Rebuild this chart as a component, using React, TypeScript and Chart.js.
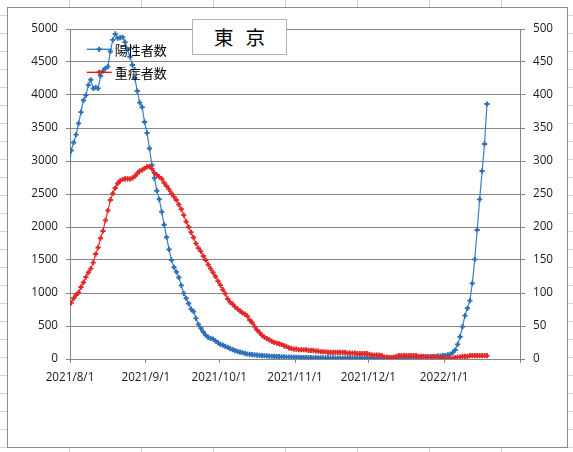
import React, { useEffect, useRef } from 'react';
import { Chart, registerables } from 'chart.js';

Chart.register(...registerables);

// Day offsets are counted from 2021/8/1 (day 0). The first value of each series is 2021/7/31,
// the day just before the axis start (its line segment enters the plot from the left edge).
const FIRST_DAY = -1;

const seriesNames = ['陽性者数', '重症者数'];

// 陽性者数 (left axis), daily values from 2021/7/31 to 2022/1/18
const positives = [
  2820,
  3160, 3280, 3400, 3570, 3740, 3920, 3995, 4150, 4230, 4100,
  4115, 4100, 4290, 4365, 4405, 4430, 4660, 4835, 4925, 4860,
  4870, 4875, 4800, 4690, 4580, 4455, 4260, 4060, 3885, 3815,
  3590, 3425, 3190, 2935, 2740, 2550, 2420, 2230, 2035, 1845,
  1660, 1500, 1390, 1320, 1235, 1115, 995, 920, 840, 755,
  720, 615, 525, 465, 410, 360, 328, 313, 303, 273,
  247, 222, 212, 190, 177, 157, 141, 126, 115, 105,
  96, 86, 76, 70, 65, 62, 58, 55, 52, 49,
  46, 44, 42, 40, 37, 35, 33, 31, 30, 29,
  28, 27, 25, 24, 23, 22, 21, 20, 20, 19,
  19, 18, 18, 17, 17, 16, 16, 16, 15, 15,
  15, 14, 14, 14, 14, 13, 13, 13, 13, 13,
  13, 13, 14, 14, 15, 15, 16, 16, 17, 17,
  18, 18, 19, 20, 20, 21, 21, 22, 22, 23,
  24, 25, 26, 28, 30, 32, 34, 36, 38, 40,
  43, 45, 50, 53, 61, 71, 96, 136, 222, 338,
  490, 657, 768, 884, 1146, 1510, 1955, 2419, 2848, 3258,
  3864,
];

// 重症者数 (right axis), daily values from 2021/7/31 to 2022/1/18
const severe = [
  80,
  85, 92, 97, 101, 109, 116, 124, 131, 137, 146,
  159, 169, 183, 194, 210, 225, 241, 251, 259, 266,
  270, 272, 273, 273, 273, 274, 277, 281, 285, 286,
  289, 291, 292, 288, 282, 279, 276, 273, 267, 262,
  257, 251, 246, 241, 234, 227, 218, 208, 200, 192,
  184, 175, 168, 163, 156, 150, 143, 137, 131, 125,
  118, 112, 105, 99, 91, 86, 83, 79, 76, 73,
  70, 68, 65, 59, 55, 49, 44, 40, 36, 33,
  31, 29, 27, 25, 24, 23, 22, 20, 19, 17,
  16, 15, 15, 14, 14, 14, 14, 13, 13, 13,
  12, 12, 11, 11, 11, 10, 10, 10, 10, 10,
  10, 10, 10, 9, 9, 9, 9, 8, 8, 8,
  8, 8, 7, 6, 6, 6, 6, 5, 3, 3,
  2, 2, 3, 4, 5, 5, 5, 5, 5, 5,
  5, 5, 4, 4, 4, 3, 3, 3, 3, 3,
  3, 2, 1, 1, 1, 1, 1, 2, 3, 3,
  4, 4, 4, 5, 5, 5, 5, 5, 5, 5,
  5,
];

// Month boundaries (day offsets from 2021/8/1) and their labels
const monthTicks = [0, 31, 61, 92, 122, 153, 184];
const monthLabels = ['2021/8/1', '2021/9/1', '2021/10/1', '2021/11/1', '2021/12/1', '2022/1/1', ''];

const LEFT_MAX = 5000;
const LEFT_STEP = 500;
const RIGHT_MAX = 500;
const RIGHT_STEP = 50;

const BLUE_LINE = '#3a7fc4';
const BLUE_MARK = '#2d6fb6';
const RED_LINE = '#e8302e';
const RED_MARK = '#e12727';
const LEGEND_LINE = ['#2e75b6', '#ff0000'];
const LEGEND_MARK = [BLUE_MARK, RED_MARK];
const GRID = '#878787';
const TEXT = '#1a1a1a';
const TICK_FONT = { family: '"Open Sans", "Liberation Sans", sans-serif', size: 11.7 };

const toPoints = (values: number[]) =>
  values.map((v, i) => ({ x: FIRST_DAY + i + 0.5, y: v }));

const plainNumber = (v: any) => String(v);

function drawCross(ctx: CanvasRenderingContext2D, x: number, y: number, r: number) {
  ctx.beginPath();
  ctx.moveTo(x - r, y);
  ctx.lineTo(x + r, y);
  ctx.moveTo(x, y - r);
  ctx.lineTo(x, y + r);
  ctx.stroke();
}

const insideLegend = {
  id: 'insideLegend',
  afterDatasetsDraw(chart: any) {
    const { ctx, chartArea } = chart;
    ctx.save();
    seriesNames.forEach((name, k) => {
      const y = chartArea.top + 20.3 + k * 23;
      const x0 = chartArea.left + 16.7;
      const x1 = x0 + 25;
      ctx.strokeStyle = LEGEND_LINE[k];
      ctx.lineWidth = 1.3;
      ctx.beginPath();
      ctx.moveTo(x0, y);
      ctx.lineTo(x1, y);
      ctx.stroke();
      ctx.strokeStyle = LEGEND_MARK[k];
      ctx.lineWidth = 1.9;
      drawCross(ctx, (x0 + x1) / 2, y, 2.6);
      ctx.fillStyle = '#000';
      ctx.font = '13px "Noto Sans CJK JP", sans-serif';
      ctx.textBaseline = 'middle';
      ctx.textAlign = 'left';
      ctx.fillText(name, x1 + 3, y + 0.5);
    });
    ctx.restore();
  },
};

export default function App() {
  const canvasRef = useRef<HTMLCanvasElement | null>(null);

  useEffect(() => {
    if (!canvasRef.current) return;
    const hideFirst = (c: any) => (c.dataIndex === 0 ? 0 : 2.6);
    const chart = new Chart(canvasRef.current, {
      type: 'line',
      data: {
        datasets: [
          {
            label: seriesNames[0],
            data: toPoints(positives),
            yAxisID: 'y',
            borderColor: BLUE_LINE,
            borderWidth: 1.2,
            pointStyle: 'cross',
            pointRadius: hideFirst,
            pointBorderWidth: 1.9,
            pointBorderColor: BLUE_MARK,
            pointBackgroundColor: BLUE_MARK,
            tension: 0,
            order: 1,
            clip: 0,
          },
          {
            label: seriesNames[1],
            data: toPoints(severe),
            yAxisID: 'y1',
            borderColor: RED_LINE,
            borderWidth: 1.2,
            pointStyle: 'cross',
            pointRadius: hideFirst,
            pointBorderWidth: 1.9,
            pointBorderColor: RED_MARK,
            pointBackgroundColor: RED_MARK,
            tension: 0,
            order: 0,
            clip: 0,
          },
        ],
      },
      options: {
        animation: false,
        responsive: false,
        devicePixelRatio: 1,
        events: [],
        layout: { padding: { top: 21, left: 0, right: 0, bottom: 0 } },
        plugins: {
          legend: { display: false },
          tooltip: { enabled: false },
          title: { display: false },
        },
        scales: {
          x: {
            type: 'linear',
            min: 0,
            max: 184,
            afterBuildTicks: (scale: any) => {
              scale.ticks = monthTicks.map((v) => ({ value: v }));
            },
            afterFit: (scale: any) => {
              scale.height = 88;
            },
            ticks: {
              autoSkip: false,
              maxRotation: 0,
              minRotation: 0,
              padding: 8,
              color: TEXT,
              font: TICK_FONT,
              callback: (_v: any, i: number) => monthLabels[i],
            },
            grid: { drawOnChartArea: false, tickLength: 4, color: GRID, lineWidth: 1 },
            border: { display: true, color: GRID, width: 1 },
          },
          y: {
            position: 'left',
            min: 0,
            max: LEFT_MAX,
            afterFit: (scale: any) => {
              scale.width = 62;
            },
            ticks: { stepSize: LEFT_STEP, padding: 8, color: TEXT, font: TICK_FONT, callback: plainNumber },
            grid: { color: GRID, tickLength: 4, lineWidth: 1 },
            border: { display: true, color: GRID, width: 1 },
          },
          y1: {
            position: 'right',
            min: 0,
            max: RIGHT_MAX,
            afterFit: (scale: any) => {
              scale.width = 47;
            },
            ticks: { stepSize: RIGHT_STEP, padding: 8, color: TEXT, font: TICK_FONT, callback: plainNumber },
            grid: { drawOnChartArea: false, color: GRID, tickLength: 5, lineWidth: 1 },
            border: { display: true, color: GRID, width: 1 },
          },
        },
      },
      plugins: [insideLegend],
    } as any);
    return () => chart.destroy();
  }, []);

  return (
    <div
      style={{
        position: 'absolute',
        left: 0,
        top: 0,
        width: 573,
        height: 452,
        overflow: 'hidden',
        backgroundColor: '#ffffff',
        backgroundImage:
          'linear-gradient(to right, #d4d4d4 1px, transparent 1px), linear-gradient(to bottom, #d4d4d4 1px, transparent 1px)',
        backgroundSize: '72px 18px',
        backgroundPosition: '69px 15px',
      }}
    >
      <div
        style={{
          position: 'absolute',
          left: 7,
          top: 7,
          width: 561,
          height: 441,
          boxSizing: 'border-box',
          border: '1px solid #8c8c8c',
          background: '#ffffff',
        }}
      >
        <canvas
          ref={canvasRef}
          width={559}
          height={439}
          style={{ display: 'block', width: 559, height: 439 }}
        />
      </div>
      <div
        style={{
          position: 'absolute',
          left: 192,
          top: 19,
          width: 95,
          height: 36,
          boxSizing: 'border-box',
          border: '1px solid #b4b4b4',
          background: '#ffffff',
          display: 'flex',
          alignItems: 'center',
          justifyContent: 'center',
          fontFamily: '"Noto Sans CJK JP", sans-serif',
          fontSize: 19.5,
          lineHeight: 1,
          wordSpacing: '7.4px',
          color: '#000',
        }}
      >
        東 京
      </div>
    </div>
  );
}
